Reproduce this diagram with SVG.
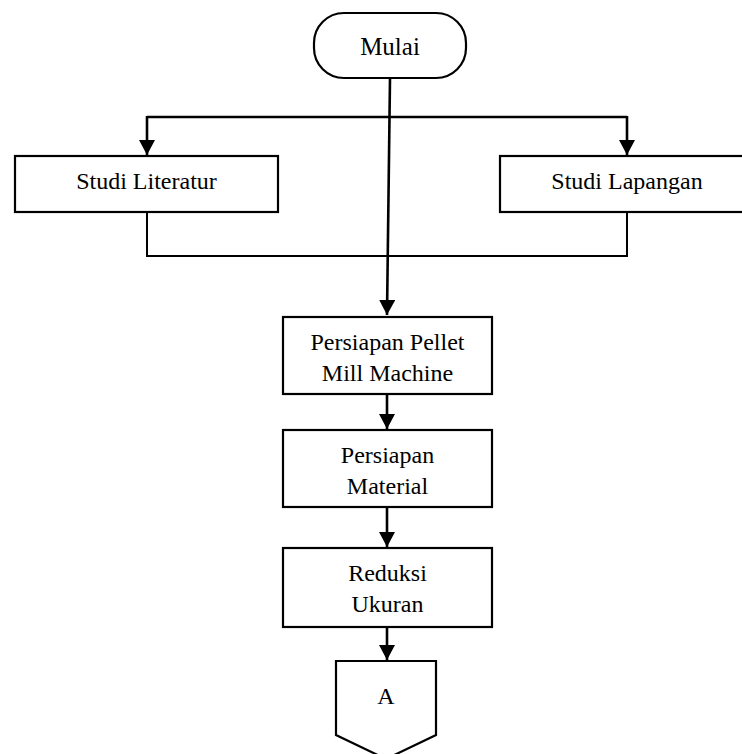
<svg xmlns="http://www.w3.org/2000/svg" width="742" height="754" viewBox="0 0 742 754">
<defs>
<marker id="arr" markerUnits="userSpaceOnUse" markerWidth="16" markerHeight="17" refX="15" refY="8" orient="auto">
<path d="M0,0 L15,8 L0,16 Z" fill="#000"/>
</marker>
<style>
.box{fill:#fff;stroke:#000;stroke-width:2.2}
.t{font-family:"Liberation Serif","Times New Roman",serif;font-size:24px;fill:#000;text-anchor:middle}
.c{fill:none;stroke:#000;stroke-width:2.6}
.c2{fill:none;stroke:#000;stroke-width:2}
</style>
</defs>
<rect width="742" height="754" fill="#fff"/>
<g id="connectors">
<path class="c" d="M390,78 L387,315" marker-end="url(#arr)"/>
<path class="c" d="M147,117 L627,117"/>
<path class="c" d="M147,116 L147,155" marker-end="url(#arr)"/>
<path class="c" d="M627,116 L627,155" marker-end="url(#arr)"/>
<path class="c2" d="M147,212 L147,256 L627,256 L627,212"/>
<path class="c" d="M387,394 L387,429" marker-end="url(#arr)"/>
<path class="c" d="M387,507 L387,547" marker-end="url(#arr)"/>
<path class="c" d="M387,627 L387,660" marker-end="url(#arr)"/>
</g>
<g id="mulai">
<rect class="box" x="314" y="13" width="152" height="65" rx="30" ry="30"/>
<text class="t" x="390" y="55" style="font-size:25px">Mulai</text>
</g>
<g id="studi-literatur">
<rect class="box" x="15" y="156" width="263" height="56"/>
<text class="t" x="146.5" y="189">Studi Literatur</text>
</g>
<g id="studi-lapangan">
<rect class="box" x="500" y="156" width="250" height="56"/>
<text class="t" x="627" y="189">Studi Lapangan</text>
</g>
<g id="persiapan-pellet">
<rect class="box" x="283" y="317" width="209" height="77"/>
<text class="t" x="387.5" y="350">Persiapan Pellet</text>
<text class="t" x="387.5" y="381">Mill Machine</text>
</g>
<g id="persiapan-material">
<rect class="box" x="283" y="430" width="209" height="77"/>
<text class="t" x="387.5" y="463">Persiapan</text>
<text class="t" x="387.5" y="494">Material</text>
</g>
<g id="reduksi-ukuran">
<rect class="box" x="283" y="548" width="209" height="79"/>
<text class="t" x="387.5" y="581">Reduksi</text>
<text class="t" x="387.5" y="612">Ukuran</text>
</g>
<g id="connector-a">
<path class="box" d="M336,661 L436,661 L436,735 L386,759 L336,735 Z"/>
<text class="t" x="386" y="704">A</text>
</g>
</svg>
